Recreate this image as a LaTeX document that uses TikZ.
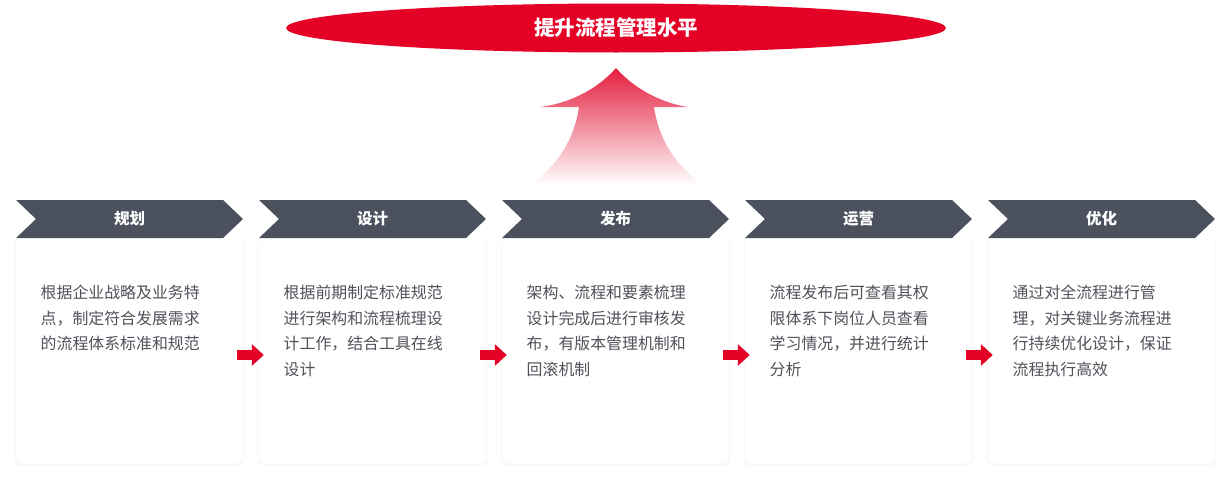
\documentclass[tikz,border=0pt]{standalone}
\usepackage{fontspec}
\setmainfont{Noto Sans CJK SC}
\definecolor{GoalRed}{RGB}{229, 0, 38}
\definecolor{ArrowRed}{RGB}{228, 30, 62}
\definecolor{HeadGray}{RGB}{75, 81, 93}
\definecolor{TextGray}{RGB}{80, 82, 90}
\usetikzlibrary{arrows.meta, positioning, shapes.geometric, shadows}

\begin{document}
\begin{tikzpicture}[x=1pt, y=-1pt,
    goal/.style={ellipse, fill=GoalRed, text=white, minimum width=660pt, minimum height=49pt, inner sep=0pt, font=\fontsize{20.5}{24}\selectfont\bfseries},
    card/.style={rectangle, rounded corners=6pt, fill=white, minimum width=227pt, minimum height=226pt, inner sep=0pt, drop shadow={fill=black, opacity=0.025, shadow xshift=0pt, shadow yshift=-1.5pt, shadow scale=1.012}},
    headtext/.style={text=white, inner sep=0pt, font=\fontsize{15.5}{18}\selectfont\bfseries},
    desc/.style={anchor=north west, text=TextGray, align=left, inner sep=0pt, font=\fontsize{15.9}{25.5}\selectfont},
    flowarrow/.style={draw=GoalRed, line width=10pt, -{Triangle[length=12pt, width=21pt]}}]
        \useasboundingbox (0,0) rectangle (1231,479);

        % Goal
        \node[goal] (goal) at (616,28) {提升流程管理水平};

        % Big arrow
        \shade[top color=ArrowRed, bottom color=white]
            (616,68) .. controls (595,92) and (565,104) .. (540,107) -- (579,107)
            .. controls (574,140) and (558,165) .. (530,185) -- (703,185)
            .. controls (675,165) and (659,140) .. (654,107) -- (688,107)
            .. controls (667,104) and (637,92) .. (616,68) -- cycle;

        % Stage 1
        \node[card] (card1) at (129.5,350) {};
        \fill[HeadGray] (16,200) -- (223,200) -- (243,219) -- (223,238) -- (16,238) -- (36,219) -- cycle;
        \node[headtext] (head1) at (129.5,219) {规划};
        \node[desc] (desc1) at (40.5,285) {根据企业战略及业务特\\点，制定符合发展需求\\的流程体系标准和规范};

        % Stage 2
        \node[card] (card2) at (372.5,350) {};
        \fill[HeadGray] (259,200) -- (466,200) -- (486,219) -- (466,238) -- (259,238) -- (279,219) -- cycle;
        \node[headtext] (head2) at (372.5,219) {设计};
        \node[desc] (desc2) at (283.5,285) {根据前期制定标准规范\\进行架构和流程梳理设\\计工作，结合工具在线\\设计};

        % Stage 3
        \node[card] (card3) at (615.5,350) {};
        \fill[HeadGray] (502,200) -- (709,200) -- (729,219) -- (709,238) -- (502,238) -- (522,219) -- cycle;
        \node[headtext] (head3) at (615.5,219) {发布};
        \node[desc] (desc3) at (526.5,285) {架构、流程和要素梳理\\设计完成后进行审核发\\布，有版本管理机制和\\回滚机制};

        % Stage 4
        \node[card] (card4) at (858.5,350) {};
        \fill[HeadGray] (745,200) -- (952,200) -- (972,219) -- (952,238) -- (745,238) -- (765,219) -- cycle;
        \node[headtext] (head4) at (858.5,219) {运营};
        \node[desc] (desc4) at (769.5,285) {流程发布后可查看其权\\限体系下岗位人员查看\\学习情况，并进行统计\\分析};

        % Stage 5
        \node[card] (card5) at (1101.5,350) {};
        \fill[HeadGray] (988,200) -- (1195,200) -- (1215,219) -- (1195,238) -- (988,238) -- (1008,219) -- cycle;
        \node[headtext] (head5) at (1101.5,219) {优化};
        \node[desc] (desc5) at (1012.5,285) {通过对全流程进行管\\理，对关键业务流程进\\行持续优化设计，保证\\流程执行高效};

        % Flow arrows
        \draw[flowarrow] ([xshift=-6pt, yshift=-5pt]card1.east) -- ([xshift=5pt, yshift=-5pt]card2.west);
        \draw[flowarrow] ([xshift=-6pt, yshift=-5pt]card2.east) -- ([xshift=5pt, yshift=-5pt]card3.west);
        \draw[flowarrow] ([xshift=-6pt, yshift=-5pt]card3.east) -- ([xshift=5pt, yshift=-5pt]card4.west);
        \draw[flowarrow] ([xshift=-6pt, yshift=-5pt]card4.east) -- ([xshift=5pt, yshift=-5pt]card5.west);
    \end{tikzpicture}
\end{document}
